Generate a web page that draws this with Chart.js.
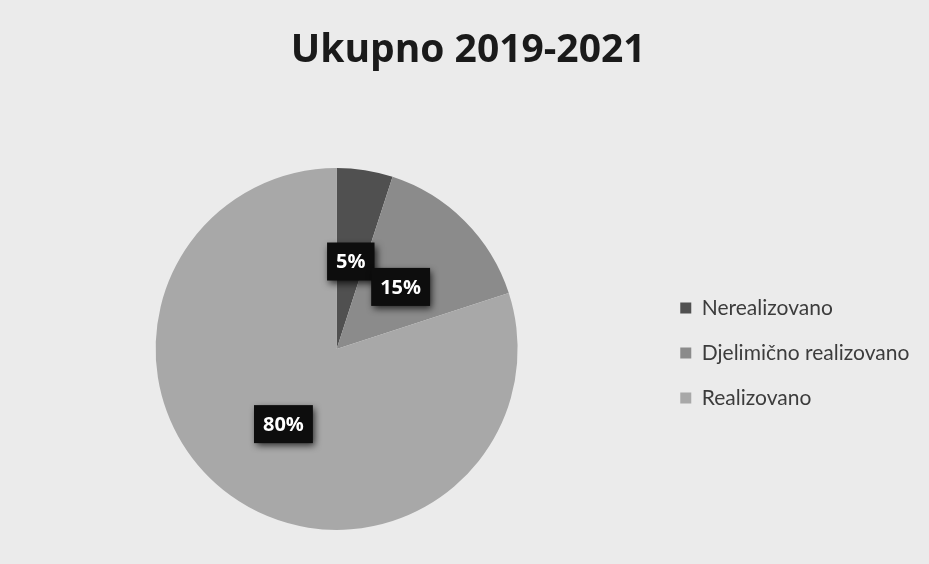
<!DOCTYPE html>
<html>
<head>
<meta charset="utf-8">
<script src="https://cdn.jsdelivr.net/npm/chart.js@4/dist/chart.umd.min.js"></script>
<style>
  html, body { margin: 0; padding: 0; background: #ebebeb; }
  #wrap { width: 929px; height: 564px; }
</style>
</head>
<body>
<div id="wrap"><canvas id="c" width="929" height="564"></canvas></div>
<script>
const categories = ['Nerealizovano', 'Djelimično realizovano', 'Realizovano'];
const shares = [5, 15, 80];
const sliceColors = ['#505050', '#8b8b8b', '#a8a8a8'];
const titleText = 'Ukupno 2019-2021';

// Black value tags with a soft drop shadow, placed halfway out along each slice
const valueTags = {
  id: 'valueTags',
  afterDatasetsDraw(chart) {
    const ctx = chart.ctx;
    const meta = chart.getDatasetMeta(0);
    ctx.save();
    ctx.font = 'bold 20px "Open Sans"';
    ctx.textAlign = 'center';
    ctx.textBaseline = 'middle';
    meta.data.forEach((arc, i) => {
      const p = arc.getProps(['x', 'y', 'startAngle', 'endAngle', 'outerRadius'], true);
      const mid = (p.startAngle + p.endAngle) / 2;
      const r = p.outerRadius * 0.5;
      const cx = p.x + Math.cos(mid) * r;
      const cy = p.y + Math.sin(mid) * r + 2;
      const label = shares[i] + '%';
      const w = ctx.measureText(label).width + 18;
      const h = 38;
      ctx.save();
      ctx.shadowColor = 'rgba(0,0,0,0.75)';
      ctx.shadowBlur = 7;
      ctx.shadowOffsetX = 2;
      ctx.shadowOffsetY = 3;
      ctx.fillStyle = '#0d0d0d';
      ctx.fillRect(cx - w / 2, cy - h / 2, w, h);
      ctx.restore();
      ctx.fillStyle = '#ffffff';
      ctx.fillText(label, cx, cy + 1);
    });
    ctx.restore();
  }
};

new Chart(document.getElementById('c'), {
  type: 'pie',
  data: {
    labels: categories,
    datasets: [{
      data: shares,
      backgroundColor: sliceColors,
      borderWidth: 0,
      hoverOffset: 0,
      radius: 181
    }]
  },
  options: {
    responsive: false,
    animation: false,
    events: [],
    layout: { padding: { left: 17, right: 9.7, top: 0, bottom: 34 } },
    plugins: {
      title: {
        display: true,
        text: titleText,
        color: '#1a1a1a',
        font: { family: '"Open Sans"', size: 39, weight: 'bold', lineHeight: 1.2 },
        padding: { top: 27, bottom: 94 }
      },
      legend: {
        position: 'right',
        fullSize: false,
        title: { display: true, text: '', font: { size: 5, lineHeight: 1 }, padding: 1.5 },
        labels: {
          color: '#3c3c3c',
          font: { family: 'Lato', size: 21 },
          boxWidth: 11,
          boxHeight: 11,
          padding: 24
        }
      },
      tooltip: { enabled: false }
    }
  },
  plugins: [valueTags]
});
</script>
</body>
</html>
